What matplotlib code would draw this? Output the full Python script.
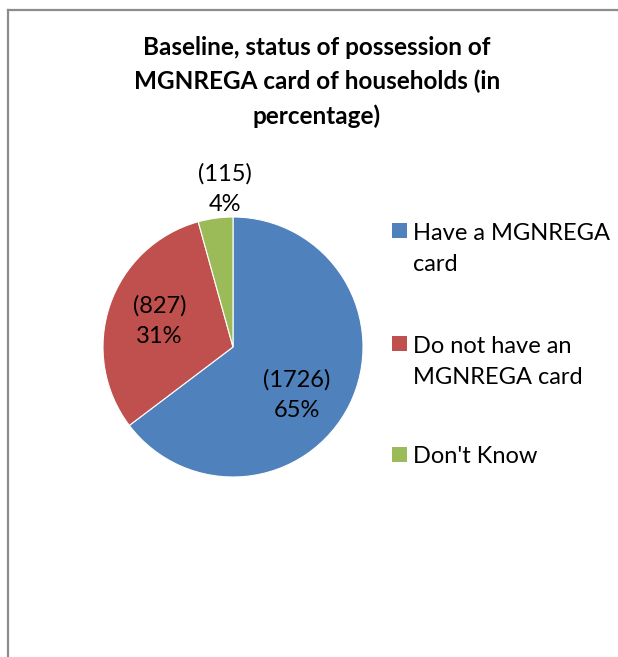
import numpy as np
import matplotlib

matplotlib.use("Agg")
import matplotlib.pyplot as plt
from matplotlib.patches import Rectangle
from matplotlib.lines import Line2D

plt.rcParams["font.family"] = ["Lato", "DejaVu Sans"]

# data
categories = ["Have a MGNREGA\ncard", "Do not have an\nMGNREGA card", "Don't Know"]
counts = [1726, 827, 115]
colors = ["#4F81BD", "#C0504D", "#9BBB59"]
title = "Baseline, status of possession of\nMGNREGA card of households (in\npercentage)"

W, H = 618, 657
fig = plt.figure(figsize=(W / 100, H / 100), dpi=100)

# outer chart frame (cropped on right and bottom)
fig.add_artist(Line2D([8 / W, 8 / W], [0, 1 - 10 / H], transform=fig.transFigure,
                      color="#8c8c8c", lw=1.6))
fig.add_artist(Line2D([8 / W, 1], [1 - 10 / H, 1 - 10 / H], transform=fig.transFigure,
                      color="#8c8c8c", lw=1.6))

# pie axes: centre (233, 347) px, radius 130 px
cx, cy, r = 233, 347, 130
ax = fig.add_axes([(cx - r) / W, (H - cy - r) / H, 2 * r / W, 2 * r / H])
wedges, _ = ax.pie(counts, colors=colors, startangle=90, counterclock=False, radius=1,
                   wedgeprops=dict(edgecolor="white", linewidth=0.8))
ax.set_xlim(-1, 1)
ax.set_ylim(-1, 1)
ax.axis("off")

total = sum(counts)
dists = [0.615, 0.60, 1.217]
shifts = [-10.4, -0.7, -4.9]  # degrees, nudges to sit where the original labels are
for w, n, d, s in zip(wedges, counts, dists, shifts):
    ang = np.deg2rad((w.theta1 + w.theta2) / 2 + s)
    pct = round(100 * n / total)
    ax.text(d * np.cos(ang), d * np.sin(ang), f"({n})\n{pct}%", ha="center", va="center",
            fontsize=17, linespacing=1.6, color="black")

fig.text(317 / W, 1 - 82 / H, title, ha="center", va="center", fontsize=17.5,
         fontweight="bold", linespacing=1.55)

# legend, square aligned with first line of each entry
first_base = [239, 352, 463]
line_gap = 32
for lab, c, yb in zip(categories, colors, first_base):
    fig.add_artist(Rectangle((392 / W, 1 - (yb - 1) / H), 15 / W, 15 / H,
                             transform=fig.transFigure, facecolor=c, edgecolor="none"))
    last = yb + line_gap * lab.count("\n")
    fig.text(413 / W, 1 - last / H, lab, ha="left", va="baseline", fontsize=17,
             linespacing=1.6)

fig.savefig("out.png", dpi=100)
